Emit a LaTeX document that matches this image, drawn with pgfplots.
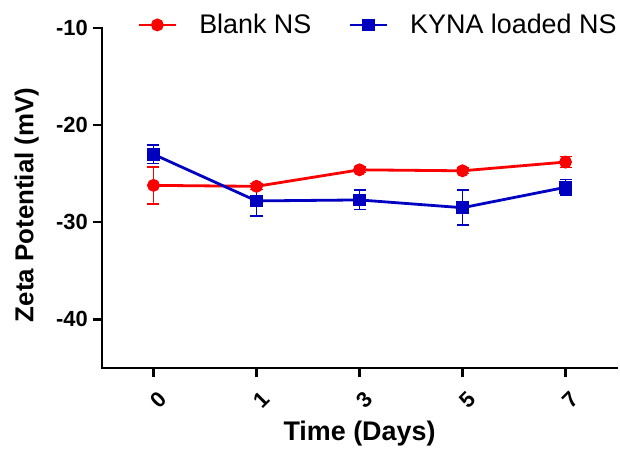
\documentclass[border=0pt]{standalone}
\usepackage{fontspec}
\setmainfont{Liberation Sans}
\usepackage{pgfplots}
\pgfplotsset{compat=1.18}
\definecolor{cred}{RGB}{250,0,0}
\definecolor{cblue}{RGB}{0,0,192}
\begin{document}
\begin{tikzpicture}[x=1bp,y=1bp]
\begin{axis}[
  scale only axis,
  width=515bp, height=340bp,
  xmin=-0.5, xmax=4.5, ymin=-45, ymax=-10,
  axis x line=bottom, axis y line=left,
  axis line style={-, line width=2.6bp, line cap=rect},
  xtick={0,1,2,3,4}, xticklabels={0,1,3,5,7},
  ytick={-40,-30,-20,-10}, yticklabels={{-40},{-30},{-20},{-10}},
  tick style={line width=2.4bp, black},
  major tick length=9bp,
  tick align=outside,
  x tick label style={font=\fontsize{22}{24}\selectfont\bfseries, rotate=45, anchor=north east, inner sep=1bp, yshift=-11bp, xshift=-5bp},
  y tick label style={font=\fontsize{22}{24}\selectfont\bfseries, inner sep=2bp, xshift=-3bp},
  xlabel={Time (Days)},
  ylabel={Zeta Potential (mV)},
  xlabel style={font=\fontsize{27}{30}\selectfont\bfseries, at={(axis description cs:0.5,-0.156)}, anchor=north, inner sep=0pt},
  ylabel style={font=\fontsize{26}{28}\selectfont\bfseries, at={(axis description cs:-0.170,0.48)}, anchor=north, inner sep=0pt},
  legend columns=2,
  legend style={draw=none, fill=none, at={(axis description cs:0.534,1.009)}, anchor=center,
    font=\fontsize{27}{29}\selectfont, inner sep=0pt, nodes={inner sep=0pt},
    /tikz/every odd column/.append style={column sep=22bp},
    /tikz/every even column/.append style={column sep=37bp}},
  legend cell align=left,
  legend image code/.code={\draw[mark repeat=2,mark phase=2] plot coordinates {(0bp,0bp) (18.5bp,0bp) (37bp,0bp)};},
  clip=false,
]
\addplot[cred, line width=2.8bp, mark=*, mark size=5bp,
  error bars/.cd, y dir=both, y explicit,
  error bar style={line width=1.5bp, cred},
  error mark options={rotate=90, mark size=6bp, line width=1.5bp, cred}]
  coordinates {
  (0,-26.2) +- (0,1.9)
  (1,-26.3) +- (0,0.3)
  (2,-24.6) +- (0,0.3)
  (3,-24.7) +- (0,0.3)
  (4,-23.8) +- (0,0.55)
  };
\addlegendentry{Blank NS}
\addplot[cblue, line width=2.8bp, mark=square*, mark size=5bp,
  error bars/.cd, y dir=both, y explicit,
  error bar style={line width=1.5bp, cblue},
  error mark options={rotate=90, mark size=6bp, line width=1.5bp, cblue}]
  coordinates {
  (0,-23.0) +- (0,0.95)
  (1,-27.8) +- (0,1.55)
  (2,-27.7) +- (0,1.0)
  (3,-28.5) +- (0,1.8)
  (4,-26.4) +- (0,0.8)
  };
\addlegendentry{KYNA loaded NS}
\end{axis}
\pgfresetboundingbox
\path ([xshift=-102bp,yshift=-81bp]current axis.south west) rectangle ([xshift=3bp,yshift=28bp]current axis.north east);
\end{tikzpicture}
\end{document}
